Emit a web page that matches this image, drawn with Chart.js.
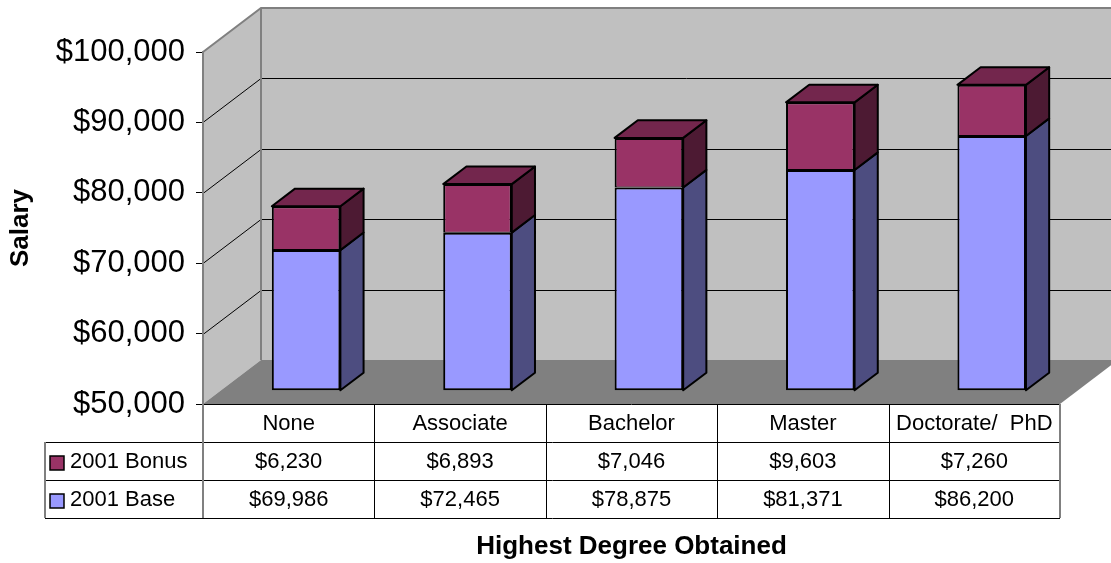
<!DOCTYPE html>
<html>
<head>
<meta charset="utf-8">
<script src="https://cdn.jsdelivr.net/npm/chart.js@4"></script>
<style>
html,body{margin:0;padding:0;background:#fff;}
</style>
</head>
<body>
<canvas id="myChart" width="1111" height="563"></canvas>
<script>
// datos de la grafica
let grados=['None','Associate','Bachelor','Master','Doctorate/  PhD'];
let base2001=[69986,72465,78875,81371,86200];
let bonus2001=[6230,6893,7046,9603,7260];
let ticksY=[50000,60000,70000,80000,90000,100000];

const FONT='"Liberation Sans", Arial, sans-serif';
const DX=58, DY=-44;        // profundidad de la caja 3d
const FRONT=0.3, BACK=0.7;  // las barras van entre estas profundidades

function dinero(v){
    return '$'+v.toLocaleString('en-US');
}

function poly(ctx,pts,fill,stroke){
    ctx.beginPath();
    ctx.moveTo(pts[0][0],pts[0][1]);
    for(let i=1;i<pts.length;i++) ctx.lineTo(pts[i][0],pts[i][1]);
    ctx.closePath();
    if(fill){ ctx.fillStyle=fill; ctx.fill(); }
    if(stroke){ ctx.strokeStyle=stroke; ctx.stroke(); }
}

function linea(ctx,pts){
    ctx.beginPath();
    ctx.moveTo(pts[0][0],pts[0][1]);
    for(let i=1;i<pts.length;i++) ctx.lineTo(pts[i][0],pts[i][1]);
    ctx.stroke();
}

// paredes y piso
let caja3d={
    id:'caja3d',
    beforeDraw(chart){
        let ctx=chart.ctx, a=chart.chartArea, y=chart.scales.y;
        let yb=y.getPixelForValue(ticksY[0]);
        let yt=y.getPixelForValue(ticksY[ticksY.length-1]);
        ctx.save();
        ctx.fillStyle='#fff';
        ctx.fillRect(0,0,chart.width,chart.height);
        poly(ctx,[[a.left+DX,yt+DY],[a.right+DX,yt+DY],[a.right+DX,yb+DY],[a.left+DX,yb+DY]],'#c0c0c0');
        poly(ctx,[[a.left,yt],[a.left+DX,yt+DY],[a.left+DX,yb+DY],[a.left,yb]],'#c0c0c0');
        poly(ctx,[[a.left,yb],[a.left+DX,yb+DY],[a.right+DX,yb+DY],[a.right,yb]],'#808080');
        ctx.strokeStyle='#000';
        ctx.lineWidth=1;
        for(let i=1;i<ticksY.length-1;i++){
            let p=Math.round(y.getPixelForValue(ticksY[i]))+0.5;
            linea(ctx,[[a.left,p],[a.left+DX,p+DY],[a.right+DX,p+DY]]);
        }
        ctx.strokeStyle='#808080';
        ctx.lineWidth=2;
        linea(ctx,[[a.left,yt],[a.left+DX,yt+DY],[a.right+DX,yt+DY]]);
        linea(ctx,[[a.left+DX,yt+DY],[a.left+DX,yb+DY]]);
        ctx.restore();
    },
    beforeDatasetsDraw(chart){
        chart.ctx.save();
        chart.ctx.translate(FRONT*DX,FRONT*DY);
    },
    afterDatasetsDraw(chart){
        let ctx=chart.ctx;
        let bx=(BACK-FRONT)*DX, by=(BACK-FRONT)*DY;
        let n=chart.data.datasets.length;
        ctx.lineWidth=2;
        ctx.lineJoin='round';
        chart.data.datasets.forEach((ds,i)=>{
            chart.getDatasetMeta(i).data.forEach(bar=>{
                let p=bar.getProps(['x','y','base','width'],true);
                let l=p.x-p.width/2, r=p.x+p.width/2;
                poly(ctx,[[r,p.y],[r+bx,p.y+by],[r+bx,p.base+by],[r,p.base]],ds.sideColor,'#000');
                if(i==n-1){
                    poly(ctx,[[l,p.y],[l+bx,p.y+by],[r+bx,p.y+by],[r,p.y]],ds.topColor,'#000');
                }
            });
        });
        ctx.restore();
    }
};

// tabla de datos debajo
let tabla={
    id:'tabla',
    afterDraw(chart){
        let ctx=chart.ctx, a=chart.chartArea, xs=chart.scales.x;
        let colW=(a.right-a.left)/grados.length;
        let rowH=38;
        let top=a.bottom, bottom=top+rowH*3;
        let legL=45;
        let filas=[chart.data.datasets[1],chart.data.datasets[0]];

        ctx.save();
        ctx.fillStyle='#000';
        ctx.font='22px '+FONT;
        ctx.textAlign='center';
        ctx.textBaseline='middle';
        grados.forEach((g,i)=>{
            ctx.fillText(g,xs.getPixelForValue(i),top+rowH/2+1);
        });
        filas.forEach((ds,f)=>{
            let cy=top+rowH*(f+1)+rowH/2+1;
            ds.data.forEach((v,i)=>{
                ctx.fillStyle='#000';
                ctx.fillText(dinero(v),xs.getPixelForValue(i),cy);
            });
            ctx.fillStyle=ds.backgroundColor;
            ctx.fillRect(legL+5,cy-6,14,14);
            ctx.strokeStyle='#000';
            ctx.lineWidth=1.5;
            ctx.strokeRect(legL+5,cy-6,14,14);
            ctx.fillStyle='#000';
            ctx.textAlign='left';
            ctx.fillText(ds.label,legL+25,cy);
            ctx.textAlign='center';
        });

        ctx.strokeStyle='#000';
        ctx.lineWidth=1;
        linea(ctx,[[a.left,top+0.5],[a.right,top+0.5]]);
        for(let f=1;f<=3;f++){
            let yy=Math.round(top+rowH*f)+0.5;
            linea(ctx,[[legL,yy],[a.right,yy]]);
        }
        for(let i=0;i<grados.length-1;i++){
            let xx=Math.round(xs.getPixelForValue(i)+colW/2)+0.5;
            linea(ctx,[[xx,top],[xx,bottom]]);
        }
        ctx.strokeStyle='#808080';
        ctx.lineWidth=2;
        linea(ctx,[[a.left,top],[a.left,bottom]]);
        linea(ctx,[[a.right,top],[a.right,bottom]]);
        linea(ctx,[[legL,top+rowH],[legL,bottom]]);

        // titulo eje x
        ctx.fillStyle='#000';
        ctx.font='bold 26px '+FONT;
        ctx.textAlign='center';
        ctx.fillText('Highest Degree Obtained',(a.left+a.right)/2,bottom+29);
        ctx.restore();
    }
};

new Chart('myChart',{
    type:'bar',
    data:{
        labels:grados,
        datasets:[{
            label:'2001 Base',
            data:base2001,
            base:ticksY[0],
            backgroundColor:'#9999ff',
            sideColor:'#4d4d80',
            topColor:'#7373bf',
            borderColor:'#000',
            borderWidth:2,
            borderSkipped:false,
            barPercentage:0.4,
            categoryPercentage:1.0,
            clip:false
        },{
            label:'2001 Bonus',
            data:bonus2001,
            backgroundColor:'#993366',
            sideColor:'#4d1a33',
            topColor:'#73264d',
            borderColor:'#000',
            borderWidth:{top:2,left:2,right:2,bottom:1},
            borderSkipped:false,
            barPercentage:0.4,
            categoryPercentage:1.0,
            clip:false
        }]
    },
    options:{
        responsive:false,
        animation:false,
        devicePixelRatio:1,
        layout:{padding:{top:52,right:51,bottom:159,left:0}},
        plugins:{legend:{display:false},tooltip:{enabled:false}},
        scales:{
            x:{display:false,stacked:true},
            y:{
                stacked:true,
                min:ticksY[0],
                max:ticksY[ticksY.length-1],
                afterFit(scale){ scale.width=203; },
                ticks:{
                    stepSize:10000,
                    padding:11,
                    color:'#000',
                    font:{family:FONT,size:31},
                    callback:v=>dinero(v)
                },
                grid:{drawOnChartArea:false,drawTicks:true,tickLength:7,tickColor:'#000',color:'#000'},
                border:{color:'#808080',width:2},
                title:{
                    display:true,
                    text:'Salary',
                    color:'#000',
                    padding:{top:5,bottom:0},
                    font:{family:FONT,size:26,weight:'bold'}
                }
            }
        }
    },
    plugins:[caja3d,tabla]
});
</script>
</body>
</html>
